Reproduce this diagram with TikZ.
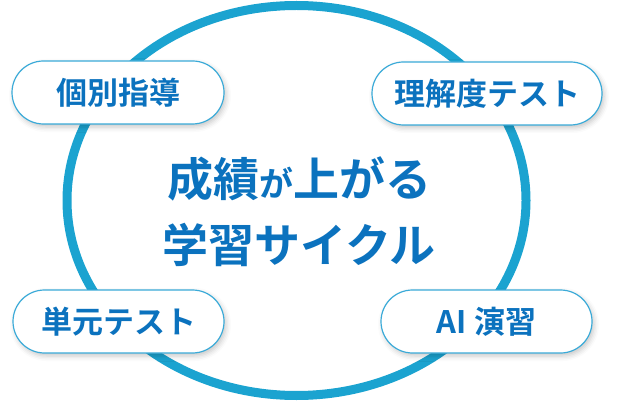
\documentclass[tikz,border=0pt]{standalone}
\usepackage{fontspec}
\newfontfamily\jp{Noto Sans CJK JP}[BoldFont={* Bold}]
\usetikzlibrary{shapes.geometric,shapes.misc,shadows.blur}
\definecolor{ringblue}{HTML}{1BA3D0}
\definecolor{textblue}{HTML}{0B72BE}
\definecolor{edgeblue}{HTML}{3AAAD8}
\begin{document}
\begin{tikzpicture}[x=1pt,y=-1pt,
	pill/.style={rounded rectangle,draw=edgeblue,line width=1.2pt,fill=white,
		minimum height=63pt,inner xsep=0pt,text=textblue,
		font=\jp\bfseries\fontsize{31}{31}\selectfont,
		blur shadow={shadow xshift=2pt,shadow yshift=-3pt,shadow blur radius=5pt,shadow opacity=22}}]
	\useasboundingbox (0,0) rectangle (623,403);
	\node[ellipse,draw=ringblue,line width=9pt,minimum width=459pt,minimum height=390pt,inner sep=0pt] (ring) at (296.5,200.5) {};
	\node[align=center,text=textblue,font=\jp\bfseries\fontsize{46}{66}\selectfont] (title) at (299,212)
		{成績{\fontsize{34}{34}\selectfont が}上がる\\学習サイクル};
	\node[pill,minimum width=212pt] (guide) at (118,92.5) {個別指導};
	\node[pill,minimum width=230pt] (check) at (487,93.5) {理解度テスト};
	\node[pill,minimum width=211pt] (unit)  at (118.5,321.5) {単元テスト};
	\node[pill,minimum width=211pt] (drill) at (486.5,321.5) {AI 演習};
\end{tikzpicture}
\end{document}
